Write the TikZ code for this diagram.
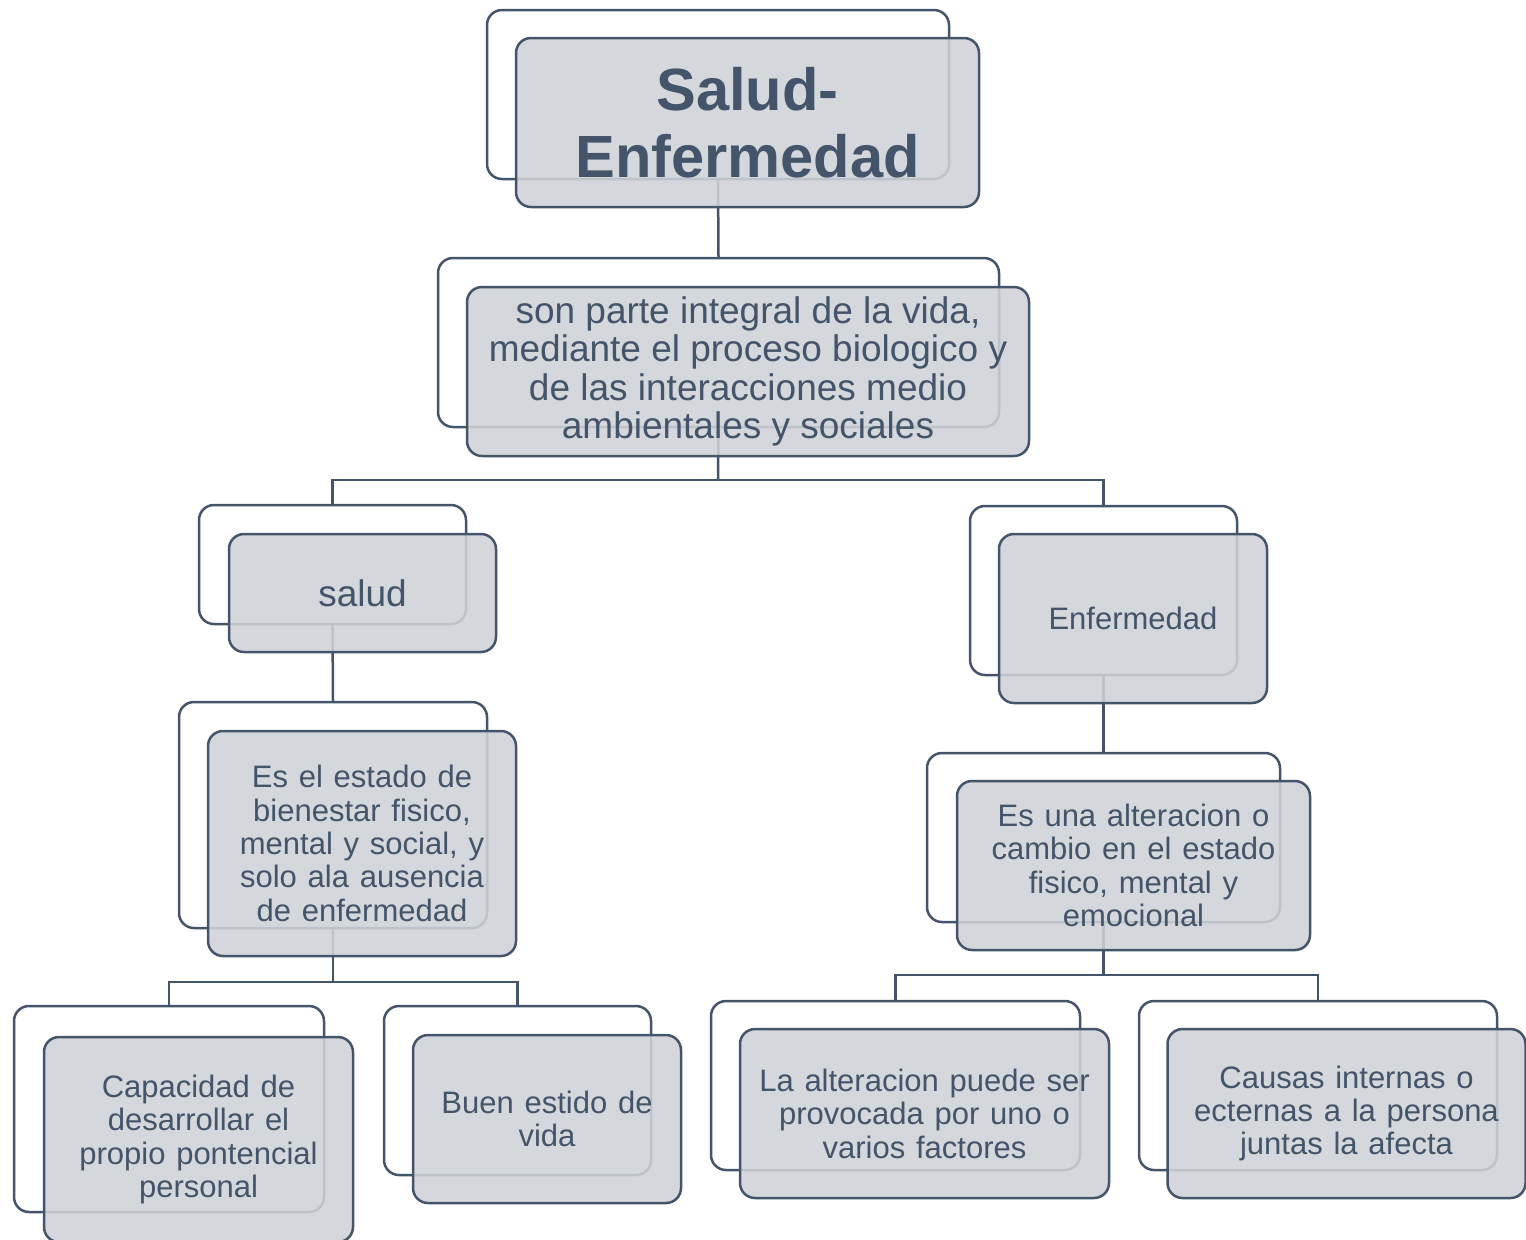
\documentclass[tikz,border=0pt]{standalone}
\usepackage{fontspec}
\setmainfont{Liberation Sans}
\newfontfamily\widesp[WordSpace=1.25]{Liberation Sans}
\usetikzlibrary{positioning}
\definecolor{ink}{RGB}{68,84,106}
\definecolor{boxfill}{RGB}{207,210,215}
\begin{document}
\begin{tikzpicture}[x=0.5pt,y=-0.5pt,
  back/.style={draw=ink, line width=1.25pt, rounded corners=7.5pt, fill=white, inner sep=0pt},
  front/.style={draw=ink, line width=1.25pt, rounded corners=7.5pt, fill=boxfill, fill opacity=0.88, text opacity=1, text=ink, inner sep=0pt, align=center},
  conn/.style={draw=ink, line width=1.25pt},
  small/.style={font=\widesp\fontsize{15.5pt}{16.7pt}\selectfont},
  mid/.style={font=\fontsize{18.5pt}{19.3pt}\selectfont}]
\useasboundingbox (0,0) rectangle (1526,1239);
\clip (0,0) rectangle (1526,1239);
% back boxes
\node[back, minimum width=231pt, minimum height=84.5pt] (b1) at (718,94.5) {};
\node[back, minimum width=280.5pt, minimum height=84.5pt] (b2) at (718.5,342.5) {};
\node[back, minimum width=133.5pt, minimum height=59.5pt] (b3) at (332.5,564.5) {};
\node[back, minimum width=133.5pt, minimum height=84.5pt] (b4) at (1103.5,590.5) {};
\node[back, minimum width=154pt, minimum height=113pt] (b5) at (333,815) {};
\node[back, minimum width=176.5pt, minimum height=84.5pt] (b6) at (1103.5,837.5) {};
\node[back, minimum width=155pt, minimum height=103pt] (b7) at (169,1109) {};
\node[back, minimum width=133.5pt, minimum height=84.5pt] (b8) at (517.5,1090.5) {};
\node[back, minimum width=184.5pt, minimum height=84.5pt] (b9) at (895.5,1085.5) {};
\node[back, minimum width=179pt, minimum height=84.5pt] (b10) at (1318,1085.5) {};
% junctions
\coordinate (j1) at (718,480);
\coordinate (j2) at (333,982);
\coordinate (j3) at (1103.5,975);
% connectors
\draw[conn] (b1.south) -- (b2.north);
\draw[conn] (b2.south) -- (j1);
\draw[conn] (j1) -| (b3.north);
\draw[conn] (j1) -| (b4.north);
\draw[conn] (b3.south) -- (b5.north);
\draw[conn] (b4.south) -- (b6.north);
\draw[conn] (b5.south) -- (j2);
\draw[conn] (j2) -| (b7.north);
\draw[conn] (j2) -| (b8.north);
\draw[conn] (b6.south) -- (j3);
\draw[conn] (j3) -| (b9.north);
\draw[conn] (j3) -| (b10.north);
% front boxes
\node[front, minimum width=231.5pt, minimum height=84.5pt, font=\bfseries\fontsize{29.8pt}{33.5pt}\selectfont] (f1) at (747.5,122.5) {Salud-\\Enfermedad};
\node[front, mid, minimum width=281pt, minimum height=84.5pt] (f2) at (748,371.5) {son parte integral de la vida,\\mediante el proceso biologico y\\de las interacciones medio\\ambientales y sociales};
\node[front, mid, minimum width=133.5pt, minimum height=59pt] (f3) at (362.5,593) {salud};
\node[front, minimum width=134pt, minimum height=84.5pt, font=\fontsize{15.5pt}{17pt}\selectfont] (f4) at (1133,618.5) {Enfermedad};
\node[front, small, minimum width=154pt, minimum height=112.5pt] (f5) at (362,843.5) {Es el estado de\\bienestar fisico,\\mental y social, y\\solo ala ausencia\\de enfermedad};
\node[front, small, minimum width=176.5pt, minimum height=84.5pt] (f6) at (1133.5,865.5) {Es una alteracion o\\cambio en el estado\\fisico, mental y\\emocional};
\node[front, small, minimum width=154.5pt, minimum height=102.5pt] (f7) at (198.5,1139.5) {Capacidad de\\desarrollar el\\propio pontencial\\personal};
\node[front, small, minimum width=134pt, minimum height=84pt] (f8) at (547,1119) {Buen estido de\\vida};
\node[front, small, minimum width=184.5pt, minimum height=84.5pt] (f9) at (924.5,1113.5) {La alteracion puede ser\\provocada por uno o\\varios factores};
\node[front, small, minimum width=179pt, minimum height=84.5pt] (f10) at (1346.5,1113.5) {Causas internas o\\ecternas a la persona\\juntas la afecta};
\end{tikzpicture}
\end{document}
